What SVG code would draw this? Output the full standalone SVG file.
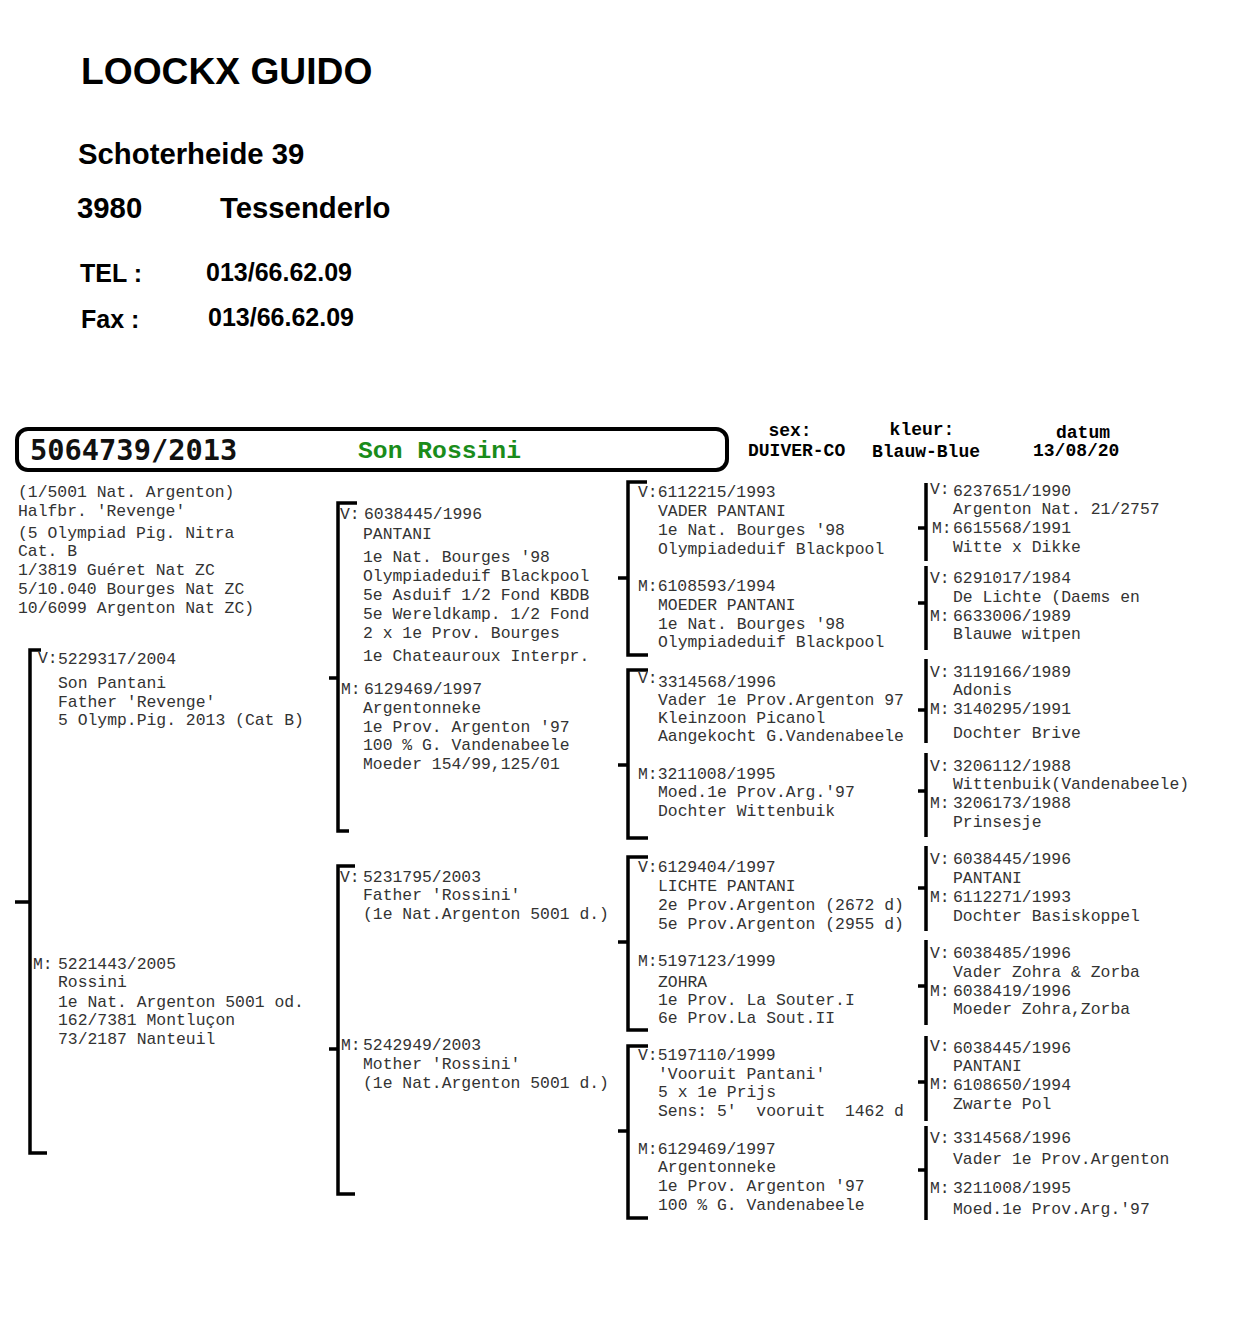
<svg xmlns="http://www.w3.org/2000/svg" width="1240" height="1323" viewBox="0 0 1240 1323">
<style>
.h{font-family:"Liberation Sans",Arial,sans-serif;font-weight:bold;fill:#000}
.t{font-family:"Liberation Mono","Courier New",monospace;font-size:16.4px;fill:#333}
.b{font-family:"Liberation Mono","Courier New",monospace;font-size:18px;font-weight:bold;fill:#000}
.br{fill:none;stroke:#000;stroke-width:3.5}
</style>
<rect width="1240" height="1323" fill="#fff"/>
<g id="header">
<text class="h" x="81" y="84" font-size="37.2">LOOCKX GUIDO</text>
<text class="h" x="78" y="164" font-size="29.3">Schoterheide 39</text>
<text class="h" x="77" y="218" font-size="29.3">3980</text>
<text class="h" x="220" y="218" font-size="29.3">Tessenderlo</text>
<text class="h" x="80" y="282" font-size="25">TEL :</text>
<text class="h" x="206" y="281" font-size="25">013/66.62.09</text>
<text class="h" x="81" y="328" font-size="25">Fax :</text>
<text class="h" x="208" y="326" font-size="25">013/66.62.09</text>
</g>
<g id="subject">
<rect x="17" y="429" width="710" height="41" rx="11" fill="none" stroke="#000" stroke-width="4"/>
<text x="30" y="460" font-family="'DejaVu Sans Mono',monospace" font-weight="bold" font-size="28.7" fill="#111">5064739/2013</text>
<text x="358" y="458" font-family="'Liberation Mono',monospace" font-weight="bold" font-size="24.7" fill="#1a8c1a">Son Rossini</text>
<text class="b" x="790" y="436" text-anchor="middle">sex:</text>
<text class="b" x="922" y="435" text-anchor="middle">kleur:</text>
<text class="b" x="1083" y="438" text-anchor="middle">datum</text>
<text class="b" x="748" y="456">DUIVER-CO</text>
<text class="b" x="872" y="457">Blauw-Blue</text>
<text class="b" x="1033" y="456">13/08/20</text>
<g class="t">
<text x="18" y="497">(1/5001 Nat. Argenton)</text>
<text x="18" y="516">Halfbr. 'Revenge'</text>
<text x="18" y="538">(5 Olympiad Pig. Nitra</text>
<text x="18" y="556">Cat. B</text>
<text x="18" y="575">1/3819 Guéret Nat ZC</text>
<text x="18" y="594">5/10.040 Bourges Nat ZC</text>
<text x="18" y="613">10/6099 Argenton Nat ZC)</text>
</g>
</g>
<g id="connectors">
<path class="br" d="M41,650 H30 V1153 H47 M15,902 H30"/>
<path class="br" d="M357,503 H338 V831 H349 M329,678 H338"/>
<path class="br" d="M355,866 H338 V1194 H355 M329,1049 H338"/>
<path class="br" d="M647,482 H628 V655 H648 M618,578 H628"/>
<path class="br" d="M648,670 H628 V838 H648 M618,765 H628"/>
<path class="br" d="M648,857 H628 V1030 H648 M618,942 H628"/>
<path class="br" d="M648,1046 H628 V1218 H648 M618,1131 H628"/>
<path class="br" d="M926,483 V561 M918,528 H926"/>
<path class="br" d="M926,566 V650 M918,603 H926"/>
<path class="br" d="M926,659 V743 M918,710 H926"/>
<path class="br" d="M926,753 V837 M918,791 H926"/>
<path class="br" d="M926,846 V931 M918,888 H926"/>
<path class="br" d="M926,940 V1025 M918,986 H926"/>
<path class="br" d="M926,1036 V1121 M918,1082 H926"/>
<path class="br" d="M926,1126 V1220 M918,1170 H926"/>
</g>
<g id="sire" class="t">
<text x="38" y="663">V:</text><text x="58" y="664">5229317/2004</text>
<text x="58" y="688">Son Pantani</text>
<text x="58" y="707">Father 'Revenge'</text>
<text x="58" y="725">5 Olymp.Pig. 2013 (Cat B)</text>
</g>
<g id="dam" class="t">
<text x="33" y="969">M:</text><text x="58" y="969">5221443/2005</text>
<text x="58" y="987">Rossini</text>
<text x="58" y="1007">1e Nat. Argenton 5001 od.</text>
<text x="58" y="1025">162/7381 Montluçon</text>
<text x="58" y="1044">73/2187 Nanteuil</text>
</g>
<g id="ss" class="t">
<text x="340" y="519">V:</text><text x="364" y="519">6038445/1996</text>
<text x="363" y="539">PANTANI</text>
<text x="363" y="562">1e Nat. Bourges '98</text>
<text x="363" y="581">Olympiadeduif Blackpool</text>
<text x="363" y="600">5e Asduif 1/2 Fond KBDB</text>
<text x="363" y="619">5e Wereldkamp. 1/2 Fond</text>
<text x="363" y="638">2 x 1e Prov. Bourges</text>
<text x="363" y="661">1e Chateauroux Interpr.</text>
</g>
<g id="sd" class="t">
<text x="341" y="694">M:</text><text x="364" y="694">6129469/1997</text>
<text x="363" y="713">Argentonneke</text>
<text x="363" y="732">1e Prov. Argenton '97</text>
<text x="363" y="750">100 % G. Vandenabeele</text>
<text x="363" y="769">Moeder 154/99,125/01</text>
</g>
<g id="ds" class="t">
<text x="340" y="882">V:</text><text x="363" y="882">5231795/2003</text>
<text x="363" y="900">Father 'Rossini'</text>
<text x="363" y="919">(1e Nat.Argenton 5001 d.)</text>
</g>
<g id="dd" class="t">
<text x="341" y="1050">M:</text><text x="363" y="1050">5242949/2003</text>
<text x="363" y="1069">Mother 'Rossini'</text>
<text x="363" y="1088">(1e Nat.Argenton 5001 d.)</text>
</g>
<g id="sss" class="t">
<text x="638" y="497">V:6112215/1993</text>
<text x="658" y="516">VADER PANTANI</text>
<text x="658" y="535">1e Nat. Bourges '98</text>
<text x="658" y="554">Olympiadeduif Blackpool</text>
</g>
<g id="ssd" class="t">
<text x="638" y="591">M:6108593/1994</text>
<text x="658" y="610">MOEDER PANTANI</text>
<text x="658" y="629">1e Nat. Bourges '98</text>
<text x="658" y="647">Olympiadeduif Blackpool</text>
</g>
<g id="sds" class="t">
<text x="638" y="683">V:</text><text x="658" y="687">3314568/1996</text>
<text x="658" y="705">Vader 1e Prov.Argenton 97</text>
<text x="658" y="723">Kleinzoon Picanol</text>
<text x="658" y="741">Aangekocht G.Vandenabeele</text>
</g>
<g id="sdd" class="t">
<text x="638" y="779">M:3211008/1995</text>
<text x="658" y="797">Moed.1e Prov.Arg.'97</text>
<text x="658" y="816">Dochter Wittenbuik</text>
</g>
<g id="dss" class="t">
<text x="638" y="872">V:6129404/1997</text>
<text x="658" y="891">LICHTE PANTANI</text>
<text x="658" y="910">2e Prov.Argenton (2672 d)</text>
<text x="658" y="929">5e Prov.Argenton (2955 d)</text>
</g>
<g id="dsd" class="t">
<text x="638" y="966">M:5197123/1999</text>
<text x="658" y="987">ZOHRA</text>
<text x="658" y="1005">1e Prov. La Souter.I</text>
<text x="658" y="1023">6e Prov.La Sout.II</text>
</g>
<g id="dds" class="t">
<text x="638" y="1060">V:5197110/1999</text>
<text x="658" y="1079">'Vooruit Pantani'</text>
<text x="658" y="1097">5 x 1e Prijs</text>
<text x="658" y="1116" xml:space="preserve">Sens: 5'  vooruit  1462 d</text>
</g>
<g id="ddd" class="t">
<text x="638" y="1154">M:6129469/1997</text>
<text x="658" y="1172">Argentonneke</text>
<text x="658" y="1191">1e Prov. Argenton '97</text>
<text x="658" y="1210">100 % G. Vandenabeele</text>
</g>
<g id="g1" class="t">
<text x="930" y="494">V:</text><text x="953" y="496">6237651/1990</text>
<text x="953" y="514">Argenton Nat. 21/2757</text>
<text x="932" y="533">M:</text><text x="953" y="533">6615568/1991</text>
<text x="953" y="552">Witte x Dikke</text>
</g>
<g id="g2" class="t">
<text x="930" y="583">V:</text><text x="953" y="583">6291017/1984</text>
<text x="953" y="602">De Lichte (Daems en</text>
<text x="930" y="621">M:</text><text x="953" y="621">6633006/1989</text>
<text x="953" y="639">Blauwe witpen</text>
</g>
<g id="g3" class="t">
<text x="930" y="677">V:</text><text x="953" y="677">3119166/1989</text>
<text x="953" y="695">Adonis</text>
<text x="930" y="714">M:</text><text x="953" y="714">3140295/1991</text>
<text x="953" y="738">Dochter Brive</text>
</g>
<g id="g4" class="t">
<text x="930" y="771">V:</text><text x="953" y="771">3206112/1988</text>
<text x="953" y="789">Wittenbuik(Vandenabeele)</text>
<text x="930" y="808">M:</text><text x="953" y="808">3206173/1988</text>
<text x="953" y="827">Prinsesje</text>
</g>
<g id="g5" class="t">
<text x="930" y="864">V:</text><text x="953" y="864">6038445/1996</text>
<text x="953" y="883">PANTANI</text>
<text x="930" y="902">M:</text><text x="953" y="902">6112271/1993</text>
<text x="953" y="921">Dochter Basiskoppel</text>
</g>
<g id="g6" class="t">
<text x="930" y="958">V:</text><text x="953" y="958">6038485/1996</text>
<text x="953" y="977">Vader Zohra &amp; Zorba</text>
<text x="930" y="996">M:</text><text x="953" y="996">6038419/1996</text>
<text x="953" y="1014">Moeder Zohra,Zorba</text>
</g>
<g id="g7" class="t">
<text x="930" y="1051">V:</text><text x="953" y="1053">6038445/1996</text>
<text x="953" y="1071">PANTANI</text>
<text x="930" y="1089">M:</text><text x="953" y="1090">6108650/1994</text>
<text x="953" y="1109">Zwarte Pol</text>
</g>
<g id="g8" class="t">
<text x="930" y="1143">V:</text><text x="953" y="1143">3314568/1996</text>
<text x="953" y="1164">Vader 1e Prov.Argenton</text>
<text x="930" y="1193">M:</text><text x="953" y="1193">3211008/1995</text>
<text x="953" y="1214">Moed.1e Prov.Arg.'97</text>
</g>
</svg>
